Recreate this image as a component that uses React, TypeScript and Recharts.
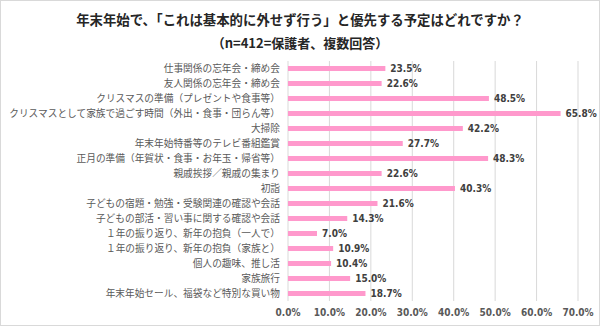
import React from 'react';
import { BarChart, Bar, XAxis, YAxis, CartesianGrid, LabelList } from 'recharts';

const categories = [
  '仕事関係の忘年会・締め会',
  '友人関係の忘年会・締め会',
  'クリスマスの準備（プレゼントや食事等）',
  'クリスマスとして家族で過ごす時間（外出・食事・団らん等）',
  '大掃除',
  '年末年始特番等のテレビ番組鑑賞',
  '正月の準備（年賀状・食事・お年玉・帰省等）',
  '親戚挨拶／親戚の集まり',
  '初詣',
  '子どもの宿題・勉強・受験関連の確認や会話',
  '子どもの部活・習い事に関する確認や会話',
  '１年の振り返り、新年の抱負（一人で）',
  '１年の振り返り、新年の抱負（家族と）',
  '個人の趣味、推し活',
  '家族旅行',
  '年末年始セール、福袋など特別な買い物',
];

const values = [23.5, 22.6, 48.5, 65.8, 42.2, 27.7, 48.3, 22.6, 40.3, 21.6, 14.3, 7.0, 10.9, 10.4, 15.0, 18.7];

const xTicks = [0, 10, 20, 30, 40, 50, 60, 70];

const data = categories.map((name, i) => ({ name, value: values[i] }));

const numFont = "'Liberation Sans Narrow', 'DejaVu Sans Condensed', 'Liberation Sans', sans-serif";
const jpFont = "'Noto Sans CJK JP', 'Noto Sans', sans-serif";

export default function App() {
  return (
    <div
      style={{
        position: 'absolute',
        left: 0,
        top: 0,
        width: 600,
        height: 326,
        boxSizing: 'border-box',
        border: '1px solid #d9d9d9',
        background: '#fff',
        fontFamily: jpFont,
      }}
    >
      <div style={{ position: 'absolute', left: 0, top: 9, width: 598, textAlign: 'center', fontSize: 13.4, fontWeight: 700, color: '#262626', lineHeight: '18px' }}>
        年末年始で、「これは基本的に外せず行う」と優先する予定はどれですか？
      </div>
      <div style={{ position: 'absolute', left: 0, top: 33, width: 598, textAlign: 'center', fontSize: 13, fontWeight: 700, color: '#262626', lineHeight: '18px' }}>
        （n=412=保護者、複数回答）
      </div>
      <div style={{ position: 'absolute', left: -1, top: -1 }}>
        <BarChart
          width={600}
          height={326}
          data={data}
          layout="vertical"
          margin={{ top: 61, right: 22, bottom: 3, left: 0 }}
          barCategoryGap={4}
        >
          <CartesianGrid horizontal={false} stroke="#d9d9d9" />
          <XAxis
            type="number"
            domain={[0, 70]}
            ticks={xTicks}
            tickFormatter={(v: number) => v.toFixed(1) + '%'}
            axisLine={false}
            tickLine={false}
            height={22}
            tick={{ fontSize: 10, fontWeight: 700, fill: '#595959', fontFamily: numFont }}
            interval={0}
          />
          <YAxis
            type="category"
            dataKey="name"
            width={288}
            axisLine={false}
            tickLine={false}
            interval={0}
            tick={{ fontSize: 9.7, fill: '#595959', fontFamily: jpFont }}
          />
          <Bar dataKey="value" fill="#ff99cc" barSize={5} isAnimationActive={false}>
            <LabelList
              dataKey="value"
              position="right"
              offset={5}
              formatter={(v: number) => v.toFixed(1) + '%'}
              style={{ fontSize: 10, fontWeight: 700, fill: '#404040', fontFamily: numFont }}
            />
          </Bar>
        </BarChart>
      </div>
    </div>
  );
}
